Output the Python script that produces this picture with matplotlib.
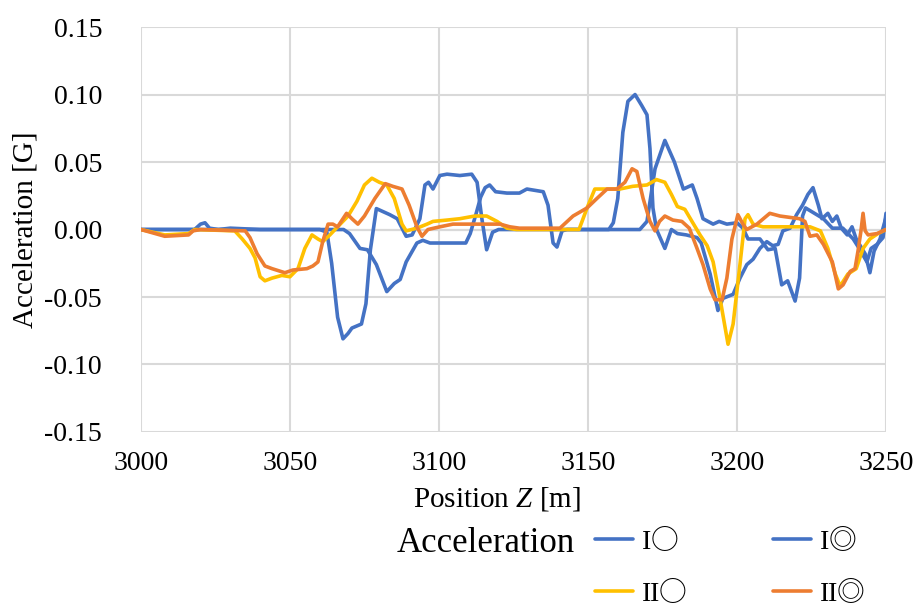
import matplotlib
matplotlib.use("Agg")
import matplotlib.pyplot as plt

plt.rcParams['font.family'] = ['Liberation Serif', 'Noto Sans CJK JP', 'DejaVu Sans']
plt.rcParams['mathtext.fontset'] = 'custom'
plt.rcParams['mathtext.rm'] = 'Liberation Serif'
plt.rcParams['mathtext.it'] = 'Liberation Serif:italic'

# series I○ (blue)
x_i_o = [3000, 3020, 3040, 3060, 3068, 3070, 3073.5, 3076, 3079, 3082.5, 3085, 3087, 3089,
         3092.6, 3094.6, 3097, 3103, 3109, 3110.5, 3112.5, 3114, 3115.5, 3117, 3119, 3122.8,
         3127, 3129.5, 3135, 3136.6, 3138.3, 3139.6, 3141.3, 3143, 3150, 3157, 3158.5, 3160,
         3161.7, 3163.4, 3165.8, 3168, 3169.8, 3170.8, 3171.8, 3173, 3175.8, 3178, 3180, 3183,
         3186.6, 3188, 3191, 3193.6, 3195.3, 3198.7, 3201, 3203.3, 3205.4, 3207.7, 3210, 3212,
         3213.8, 3215.4, 3217.8, 3220, 3222, 3223.8, 3225.5, 3227.3, 3228.5, 3230.5, 3232,
         3233.5, 3235, 3237, 3238.6, 3240, 3243, 3244.6, 3246, 3248, 3250]
y_i_o = [0, 0, 0, 0, 0, -0.003, -0.014, -0.015, -0.026, -0.046, -0.040, -0.037, -0.024,
         -0.010, -0.008, -0.010, -0.010, -0.010, -0.003, 0.012, 0.024, 0.031, 0.033, 0.028, 0.027,
         0.027, 0.030, 0.028, 0.018, -0.010, -0.013, -0.001, 0, 0, 0, 0.005, 0.023,
         0.072, 0.095, 0.100, 0.092, 0.085, 0.060, 0.016, 0.0, -0.014, 0, -0.003, -0.004,
         -0.006, -0.010, -0.033, -0.060, -0.051, -0.048, -0.036, -0.026, -0.022, -0.014, -0.009, -0.012,
         -0.011, -0.001, 0.001, 0.011, 0.018, 0.026, 0.031, 0.018, 0.008, 0.012, 0.006,
         0.010, 0.001, -0.004, 0.002, -0.007, -0.018, -0.032, -0.016, -0.007, 0.009]

# series I◎ (blue)
x_i_oo = [3000, 3010, 3018, 3020, 3021.5, 3023, 3026, 3030, 3040, 3050, 3060, 3062.4, 3064,
          3066, 3067.8, 3069.5, 3070.8, 3074, 3075.5, 3077, 3079, 3083.5, 3086, 3089, 3091,
          3093.6, 3095.3, 3096.5, 3098, 3100.3, 3102.7, 3107, 3111, 3112.8, 3114.4, 3116,
          3118, 3120, 3130, 3140, 3150, 3160, 3167.4, 3169.8, 3172.5, 3175.8, 3179, 3182,
          3185, 3186.6, 3188.6, 3192, 3194, 3196.6, 3200, 3202, 3203.7, 3207.7, 3210.4, 3212.8,
          3215, 3217, 3219.5, 3221, 3222, 3223, 3226, 3229, 3232, 3235.5, 3239, 3241, 3243.6,
          3245, 3247, 3249, 3250]
y_i_oo = [0, 0, 0, 0.004, 0.005, 0.001, 0, 0.001, 0, 0, 0, -0.002, -0.025,
          -0.065, -0.081, -0.077, -0.073, -0.070, -0.055, -0.015, 0.0155, 0.011, 0.008, -0.005, -0.004,
          0.008, 0.033, 0.035, 0.030, 0.040, 0.041, 0.040, 0.041, 0.035, 0.008, -0.015,
          -0.002, 0.0, 0.0, 0.0, 0.0, 0.0, 0.0, 0.006, 0.045, 0.066, 0.050, 0.030,
          0.033, 0.023, 0.008, 0.004, 0.006, 0.004, 0.005, 0.001, -0.007, -0.007, -0.015, -0.014,
          -0.041, -0.038, -0.053, -0.036, 0.010, 0.016, 0.012, 0.008, 0.001, 0.001, -0.007, -0.014, -0.024,
          -0.014, -0.011, -0.006, 0.012]

# series II○ (yellow)
x_ii_o = [3000, 3008, 3016, 3018, 3031.5, 3034, 3036.6, 3038.3, 3040, 3041.6, 3044, 3047.3,
          3050, 3052.7, 3055, 3057.4, 3059.4, 3061, 3063.4, 3066, 3069.5, 3072.5, 3075, 3077.5,
          3080, 3082.5, 3085, 3087.6, 3089, 3092.6, 3096, 3098, 3102.7, 3107, 3112, 3116,
          3119.5, 3122.8, 3126, 3135, 3143, 3147, 3149.7, 3152.3, 3155, 3160.7, 3165, 3169.8,
          3173, 3175.8, 3178, 3180, 3182.5, 3184.9, 3187.6, 3190, 3192, 3194.3, 3197, 3198.7,
          3201, 3202.7, 3203.7, 3205.4, 3208.7, 3217.8, 3224.5, 3228, 3230.5, 3233, 3234.6,
          3237.2, 3240, 3242.3, 3244.6, 3247.3, 3250]
y_ii_o = [0, -0.004, -0.003, 0, -0.001, -0.007, -0.014, -0.021, -0.035, -0.038, -0.036, -0.034,
          -0.035, -0.029, -0.014, -0.004, -0.007, -0.009, -0.004, 0.002, 0.010, 0.021, 0.033, 0.038,
          0.035, 0.033, 0.023, 0.004, -0.001, 0.001, 0.004, 0.006, 0.007, 0.008, 0.010, 0.010,
          0.006, 0.001, 0, 0, 0, 0, 0.016, 0.030, 0.030, 0.030, 0.032, 0.033,
          0.037, 0.035, 0.026, 0.017, 0.015, 0.006, -0.004, -0.012, -0.024, -0.051, -0.085, -0.070,
          -0.026, 0.008, 0.011, 0.004, 0.002, 0.002, 0.002, -0.001, -0.014, -0.033, -0.042,
          -0.033, -0.029, -0.014, -0.007, -0.003, 0]

# series II◎ (orange)
x_ii_oo = [3000, 3008, 3016, 3017.5, 3020, 3035, 3036.6, 3039, 3041.6, 3044, 3048.3, 3051,
           3055.7, 3057.7, 3059.4, 3061, 3062.8, 3064.4, 3066, 3069, 3070.8, 3072.8, 3075,
           3078.5, 3082, 3084.5, 3087.6, 3090, 3092.6, 3094.3, 3096.3, 3100.3, 3104.7, 3111.4,
           3120.5, 3123.8, 3127, 3140.6, 3145, 3149.7, 3153, 3156.4, 3159.7, 3162.4, 3164.8,
           3166.4, 3168.5, 3170.8, 3172.5, 3174, 3175.8, 3178.5, 3181.5, 3184, 3186.6, 3188.6,
           3191, 3192.6, 3195, 3196.6, 3198.3, 3200.3, 3202, 3203.3, 3206.7, 3211, 3214.4, 3221,
           3222.8, 3224.5, 3226.8, 3229, 3232, 3234, 3235.6, 3238, 3239.6, 3240.6, 3241.6,
           3242.3, 3243, 3244, 3247, 3250]
y_ii_oo = [0, -0.005, -0.004, -0.001, 0, -0.001, -0.006, -0.018, -0.027, -0.029, -0.032, -0.030,
           -0.029, -0.027, -0.024, -0.009, 0.004, 0.004, 0.002, 0.012, 0.008, 0.004, 0.010,
           0.023, 0.034, 0.032, 0.030, 0.018, 0.002, -0.005, 0.0, 0.002, 0.004, 0.004,
           0.004, 0.002, 0.001, 0.001, 0.010, 0.016, 0.023, 0.030, 0.030, 0.035, 0.045,
           0.043, 0.023, 0.006, -0.001, 0.006, 0.010, 0.007, 0.006, 0.001, -0.014, -0.026,
           -0.044, -0.052, -0.052, -0.036, -0.007, 0.011, 0.004, 0.0, 0.004, 0.012, 0.010, 0.008,
           0.006, -0.005, -0.004, -0.011, -0.024, -0.044, -0.041, -0.031, -0.029, -0.016, -0.001,
           0.012, -0.001, -0.004, -0.003, 0]

x_ticks = [3000, 3050, 3100, 3150, 3200, 3250]
y_ticks = [-0.15, -0.10, -0.05, 0.00, 0.05, 0.10, 0.15]

labels = ['$\\mathrm{I}$\u25cb', '$\\mathrm{I}$\u25ce', '$\\mathrm{II}$\u25cb', '$\\mathrm{II}$\u25ce']
colors = ['#4472C4', '#4472C4', '#FFC000', '#ED7D31']

fig = plt.figure(figsize=(9.21, 6.08), dpi=100)
ax = fig.add_axes([0.153, 0.2895, 0.809, 0.666])

series = [(x_i_o, y_i_o), (x_i_oo, y_i_oo), (x_ii_o, y_ii_o), (x_ii_oo, y_ii_oo)]
handles = []
for (xs, ys), lab, c in zip(series, labels, colors):
    h, = ax.plot(xs, ys, color=c, lw=2.6, label=lab, solid_joinstyle='round',
                 solid_capstyle='round', zorder=3)
    handles.append(h)

ax.set_xlim(3000, 3250)
ax.set_ylim(-0.15, 0.15)
ax.set_xticks(x_ticks)
ax.set_xticklabels([str(v) for v in x_ticks])
ax.set_yticks(y_ticks)
ax.set_yticklabels(['%.2f' % v for v in y_ticks])
ax.tick_params(length=0, labelsize=20, colors='black')
ax.tick_params(axis='y', pad=28)
ax.tick_params(axis='x', pad=14)
ax.grid(True, color='#D9D9D9', lw=1.5, zorder=0)
ax.axhline(0, color='#BFBFBF', lw=1.5, zorder=1)
for s in ax.spines.values():
    s.set_visible(False)

ax.set_xlabel('Position $\\mathit{Z}$ [m]', fontsize=21, labelpad=6, x=0.478)
ax.set_ylabel('Acceleration [G]', fontsize=21, labelpad=4)

fig.text(397 / 921, 1 - 543 / 608, 'Acceleration', fontsize=25, va='center', ha='left')
order = [0, 2, 1, 3]
fig.legend([handles[i] for i in order], [labels[i] for i in order],
           loc='upper left', bbox_to_anchor=(595 / 921, 1 - 526 / 608), ncol=2,
           frameon=False, prop={'family': ['Noto Sans CJK JP'], 'size': 20},
           handlelength=1.35, handletextpad=0.3,
           columnspacing=3.1, labelspacing=0.78, borderpad=0, borderaxespad=0)

fig.savefig('out.png', dpi=100)
